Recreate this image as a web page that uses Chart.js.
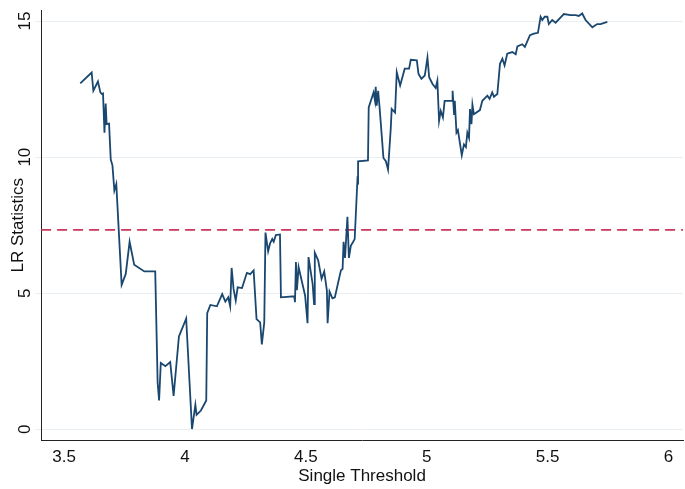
<!DOCTYPE html>
<html>
<head>
<meta charset="utf-8">
<script src="https://cdn.jsdelivr.net/npm/chart.js@4"></script>
<style>
  html, body { margin: 0; padding: 0; background: #fff; }
  #wrap { width: 685px; height: 489px; }
</style>
</head>
<body>
<div id="wrap"><canvas id="grafico"></canvas></div>
<script>
// dados
var limiar = [3.567,3.614,3.621,3.640,3.650,3.656,3.661,3.667,3.672,3.676,3.686,3.693,3.700,3.708,3.716,3.738,3.755,3.771,3.790,3.832,
  3.877,3.887,3.893,3.900,3.919,3.939,3.953,3.975,4.005,4.029,4.043,4.048,4.066,4.088,4.092,4.105,4.132,4.154,4.167,4.179,
  4.187,4.193,4.201,4.210,4.218,4.236,4.256,4.270,4.284,4.296,4.311,4.318,4.328,4.333,4.344,4.352,4.361,4.367,4.376,4.393,
  4.397,4.452,4.455,4.459,4.463,4.470,4.497,4.507,4.511,4.528,4.534,4.537,4.551,4.565,4.576,4.587,4.590,4.598,4.610,4.620,
  4.645,4.652,4.656,4.662,4.672,4.678,4.686,4.702,4.714,4.716,4.716,4.757,4.760,4.780,4.786,4.789,4.793,4.799,4.805,4.821,
  4.831,4.840,4.851,4.855,4.869,4.876,4.890,4.909,4.927,4.934,4.959,4.966,4.978,4.992,5.003,5.010,5.024,5.037,5.044,5.051,
  5.058,5.067,5.074,5.106,5.107,5.113,5.116,5.123,5.129,5.145,5.154,5.162,5.168,5.175,5.179,5.185,5.189,5.195,5.220,5.230,
  5.251,5.260,5.271,5.278,5.292,5.303,5.313,5.322,5.333,5.354,5.368,5.375,5.395,5.406,5.427,5.443,5.460,5.471,5.478,5.488,
  5.499,5.505,5.519,5.533,5.554,5.567,5.595,5.616,5.629,5.643,5.657,5.685,5.705,5.719,5.747];
var estatLR = [12.71,13.11,12.44,12.78,12.38,12.32,12.34,10.90,11.97,11.21,11.23,9.91,9.70,8.77,9.01,5.31,5.71,6.89,6.05,5.80,
  5.80,1.70,1.06,2.44,2.32,2.47,1.23,3.41,4.07,0.01,0.90,0.53,0.69,1.06,4.27,4.57,4.52,4.97,4.69,4.85,
  4.52,5.93,5.16,4.73,5.22,5.19,5.75,5.70,5.84,4.05,3.93,3.12,3.93,7.23,6.54,6.83,6.99,6.89,7.14,7.16,
  4.85,4.89,4.67,6.15,5.11,5.96,4.91,3.90,6.33,5.34,4.60,6.49,6.21,5.53,5.80,5.10,3.90,5.06,4.81,4.85,
  5.84,5.90,6.89,6.30,7.81,6.30,6.74,6.99,9.30,8.99,9.85,9.88,11.83,12.38,12.07,12.59,11.89,12.44,11.83,9.97,
  9.85,9.54,11.03,11.77,11.64,13.12,12.63,13.25,13.25,13.58,13.56,13.06,12.88,13.00,13.66,12.94,12.69,12.54,12.81,11.33,
  11.70,11.46,12.07,12.07,12.44,11.58,12.07,10.90,10.99,10.07,10.47,10.37,10.90,10.71,11.77,11.21,11.93,11.58,11.73,12.07,
  12.26,12.14,12.38,12.22,12.32,13.43,13.62,13.37,13.80,13.86,13.78,14.07,14.15,14.05,14.48,14.54,14.57,15.16,15.04,15.16,
  15.16,14.89,15.04,14.94,15.14,15.26,15.22,15.22,15.19,15.28,15.04,14.77,14.89,14.89,14.97];
var valorCritico = 7.33;
var ticksX = [3.5, 4, 4.5, 5, 5.5, 6];
var ticksY = [0, 5, 10, 15];
var X_MIN = 3.405, X_MAX = 6.06;

var AZUL_STATA = '#1a476f';
var VERMELHO = '#c8385a';
var FONTE = "'Liberation Sans', Arial, sans-serif";

var pontos = limiar.map(function(x, i) { return { x: x, y: estatLR[i] }; });

// rótulos do eixo Y girados (estilo Stata)
var rotulosY = {
  id: 'rotulosY',
  afterDraw: function(chart) {
    var ctx = chart.ctx, y = chart.scales.y, area = chart.chartArea;
    ctx.save();
    ctx.font = '17px ' + FONTE;
    ctx.fillStyle = '#111';
    ctx.textAlign = 'center';
    ctx.textBaseline = 'bottom';
    ticksY.forEach(function(v) {
      ctx.save();
      ctx.translate(area.left - 7, y.getPixelForValue(v));
      ctx.rotate(-Math.PI / 2);
      ctx.fillText(String(v), 0, 0);
      ctx.restore();
    });
    ctx.restore();
  }
};

new Chart(document.getElementById('grafico'), {
  type: 'line',
  data: {
    datasets: [{
      data: pontos,
      borderColor: AZUL_STATA,
      borderWidth: 1.8,
      pointRadius: 0,
      tension: 0
    }, {
      data: [{ x: X_MIN, y: valorCritico }, { x: X_MAX, y: valorCritico }],
      borderColor: VERMELHO,
      borderWidth: 1.6,
      borderDash: [10, 6],
      pointRadius: 0
    }]
  },
  options: {
    responsive: true,
    maintainAspectRatio: false,
    animation: false,
    layout: { padding: { left: 4, right: 2, top: 10, bottom: 2 } },
    plugins: { legend: { display: false }, tooltip: { enabled: false } },
    scales: {
      x: {
        type: 'linear', min: X_MIN, max: X_MAX,
        afterBuildTicks: function(s) { s.ticks = ticksX.map(function(v) { return { value: v }; }); },
        grid: { display: false, drawTicks: true, tickLength: 6, color: '#222' },
        border: { display: true, color: '#222', width: 1 },
        ticks: { color: '#111', font: { family: FONTE, size: 17 }, padding: 1, maxRotation: 0,
          callback: function(v) { return String(v); } },
        title: { display: true, text: 'Single Threshold', color: '#111', font: { family: FONTE, size: 17 }, padding: { top: -2, bottom: 0 } }
      },
      y: {
        min: -0.4, max: 15.4,
        afterBuildTicks: function(s) { s.ticks = ticksY.map(function(v) { return { value: v }; }); },
        grid: { color: '#e8eef2', lineWidth: 1, drawTicks: true, tickLength: 6 },
        border: { display: true, color: '#222', width: 1 },
        ticks: { display: true, color: 'rgba(0,0,0,0)', font: { family: FONTE, size: 17 }, padding: 0,
          callback: function() { return ' '; } },
        title: { display: true, text: 'LR Statistics', color: '#111', font: { family: FONTE, size: 17 }, padding: { bottom: 2 } }
      }
    }
  },
  plugins: [rotulosY]
});
</script>
</body>
</html>
